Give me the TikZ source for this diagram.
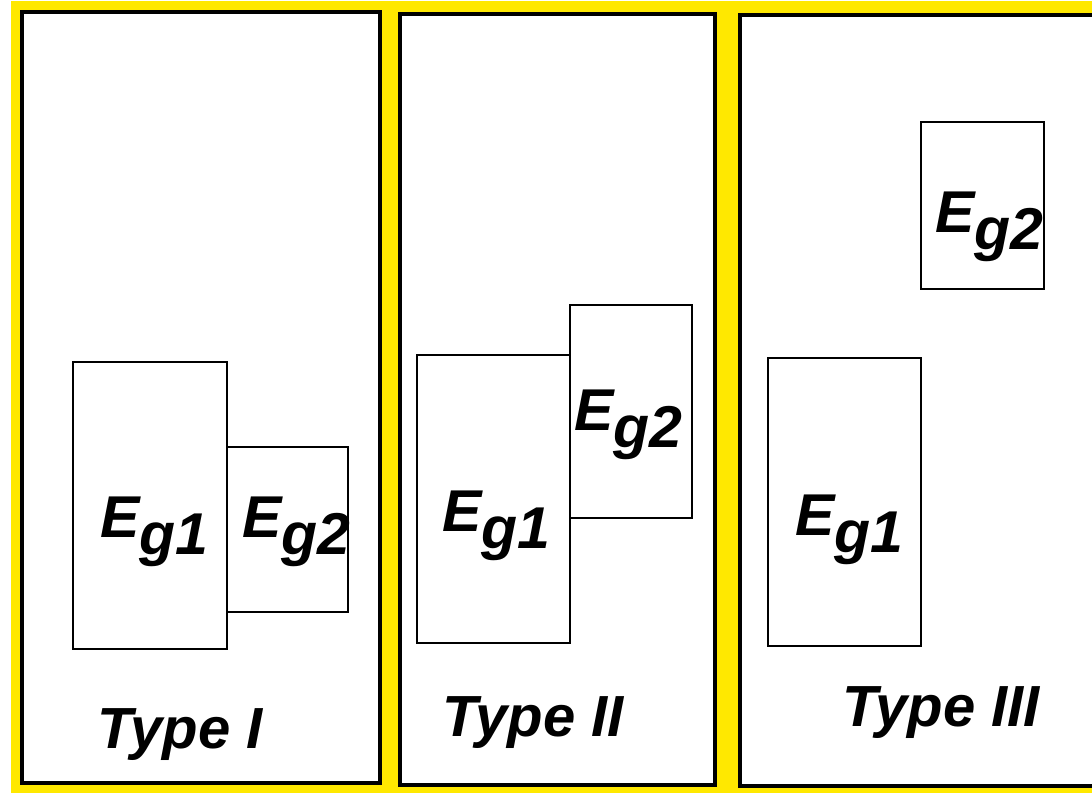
\documentclass[tikz,border=0pt]{standalone}
\usepackage{fontspec}
\setmainfont{Liberation Sans}
\definecolor{bgyellow}{RGB}{255,232,0}
\newcommand{\eglabel}[1]{E\lower17pt\hbox{g#1}}
\tikzset{
  panel/.style={draw=black, fill=white, line width=3.2pt, inner sep=0pt, outer sep=0pt, anchor=north west},
  gapbox/.style={draw=black, line width=2.6pt, inner sep=0pt, outer sep=0pt, anchor=north west},
  lbl/.style={inner sep=0pt, anchor=base west, font=\fontsize{59}{62}\selectfont\bfseries\itshape},
  typelbl/.style={inner sep=0pt, anchor=base west, font=\fontsize{58}{62}\selectfont\bfseries\itshape}
}
\begin{document}
\begin{tikzpicture}[x=1pt,y=-1pt]
\useasboundingbox (0,0) rectangle (1092,793);
\fill[white] (0,0) rectangle (1092,793);
\fill[bgyellow] (11,0.5) rectangle (1092,793);
% panels
\node[panel, minimum width=358pt, minimum height=771pt] (p1) at (22,12) {};
\node[panel, minimum width=315pt, minimum height=771pt] (p2) at (400,14) {};
\fill[white] (740,15) rectangle (1092,786);
\coordinate (p3tr) at (1095,15);
\coordinate (p3tl) at (740,15);
\coordinate (p3bl) at (740,786);
\coordinate (p3br) at (1095,786);
\draw[line width=3.2pt] (p3tr) -- (p3tl) -- (p3bl) -- (p3br);
% Type I
\node[gapbox, minimum width=154pt, minimum height=287pt] (a1) at (73,362) {};
\node[gapbox, minimum width=121pt, minimum height=165pt] (a2) at (227,447) {};
\node[lbl] (a1t) at (100,537) {\eglabel{1}};
\node[lbl] (a2t) at (242,537) {\eglabel{2}};
\node[typelbl] (t1) at (97,748) {Type I};
% Type II
\node[gapbox, minimum width=153pt, minimum height=288pt] (b1) at (417,355) {};
\node[gapbox, minimum width=122pt, minimum height=213pt] (b2) at (570,305) {};
\node[lbl] (b1t) at (442,531) {\eglabel{1}};
\node[lbl] (b2t) at (574,430) {\eglabel{2}};
\node[typelbl] (t2) at (442,736) {Type II};
% Type III
\node[gapbox, minimum width=153pt, minimum height=288pt] (c1) at (768,358) {};
\node[gapbox, minimum width=123pt, minimum height=167pt] (c2) at (921,122) {};
\node[lbl] (c1t) at (795,535) {\eglabel{1}};
\node[lbl] (c2t) at (935,232) {\eglabel{2}};
\node[typelbl] (t3) at (842,726) {Type III};
\end{tikzpicture}
\end{document}
